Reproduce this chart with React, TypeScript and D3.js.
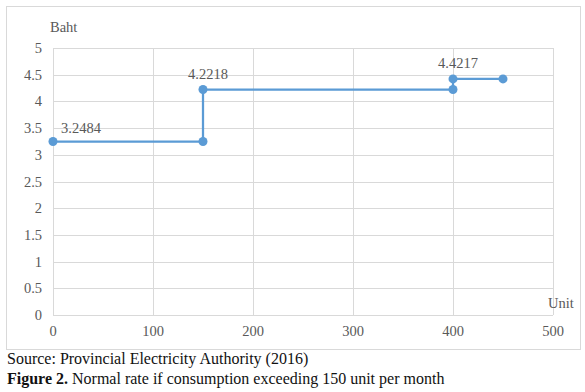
import React, { useRef, useEffect } from 'react';
import * as d3 from 'd3';

interface RatePoint {
    unit: number;
    baht: number;
}

const units: number[] = [0, 150, 150, 400, 400, 450];
const bahtValues: number[] = [3.2484, 3.2484, 4.2218, 4.2218, 4.4217, 4.4217];
const labelledIndexes: number[] = [0, 2, 4];
const xTicks: number[] = [0, 100, 200, 300, 400, 500];
const yTicks: number[] = [0, 0.5, 1, 1.5, 2, 2.5, 3, 3.5, 4, 4.5, 5];

const RateChart: React.FC = () => {
    const d3Container = useRef<SVGSVGElement | null>(null);

    useEffect(() => {
        if (!d3Container.current) return;
        const data: RatePoint[] = units.map((u, i) => ({ unit: u, baht: bahtValues[i] }));
        const font = '"Liberation Serif", "Times New Roman", serif';
        const grey = '#595959';
        const blue = '#5b9bd5';
        const fs = 14.5;

        const svg = d3.select(d3Container.current);
        svg.selectAll('*').remove();

        // chart frame
        svg.append('rect')
            .attr('x', 6.5).attr('y', 6.5)
            .attr('width', 574).attr('height', 343)
            .attr('fill', 'white').attr('stroke', '#d9d9d9');

        const x = d3.scaleLinear().domain([0, 500]).range([53, 553]);
        const y = d3.scaleLinear().domain([0, 5]).range([315, 48]);

        // gridlines
        svg.append('g').selectAll('line.h')
            .data(yTicks)
            .join('line')
            .attr('x1', x(0)).attr('x2', x(500))
            .attr('y1', d => Math.round(y(d)) + 0.5).attr('y2', d => Math.round(y(d)) + 0.5)
            .attr('stroke', '#d9d9d9');
        svg.append('g').selectAll('line.v')
            .data(xTicks)
            .join('line')
            .attr('y1', y(0)).attr('y2', y(5))
            .attr('x1', d => Math.round(x(d)) + 0.5).attr('x2', d => Math.round(x(d)) + 0.5)
            .attr('stroke', '#d9d9d9');

        // tick labels
        svg.append('g').selectAll('text')
            .data(yTicks)
            .join('text')
            .attr('x', 42).attr('y', d => y(d) + 5)
            .attr('text-anchor', 'end')
            .attr('font-family', font).attr('font-size', fs).attr('fill', grey)
            .text(d => String(d));
        svg.append('g').selectAll('text')
            .data(xTicks)
            .join('text')
            .attr('x', d => x(d)).attr('y', 336)
            .attr('text-anchor', 'middle')
            .attr('font-family', font).attr('font-size', fs).attr('fill', grey)
            .text(d => String(d));

        // axis titles
        svg.append('text').attr('x', 50).attr('y', 32)
            .attr('font-family', font).attr('font-size', fs).attr('fill', grey).text('Baht');
        svg.append('text').attr('x', 548).attr('y', 308)
            .attr('font-family', font).attr('font-size', fs).attr('fill', grey).text('Unit');

        // step line
        const line = d3.line<RatePoint>().x(d => x(d.unit)).y(d => y(d.baht));
        svg.append('path')
            .datum(data)
            .attr('d', line)
            .attr('fill', 'none').attr('stroke', blue).attr('stroke-width', 2.25);

        svg.append('g').selectAll('circle')
            .data(data)
            .join('circle')
            .attr('cx', d => x(d.unit)).attr('cy', d => y(d.baht))
            .attr('r', 4.5).attr('fill', blue);

        // data labels
        const labelled = labelledIndexes.map(i => data[i]);
        svg.append('g').selectAll('text')
            .data(labelled)
            .join('text')
            .attr('x', d => d.unit === 0 ? x(d.unit) + 8 : x(d.unit) + 5)
            .attr('y', d => y(d.baht) - (d.unit === 0 ? 9 : 11))
            .attr('text-anchor', d => d.unit === 0 ? 'start' : 'middle')
            .attr('font-family', font).attr('font-size', fs).attr('fill', grey)
            .text(d => d.baht.toFixed(4));

        // caption
        svg.append('text').attr('x', 7).attr('y', 364)
            .attr('font-family', font).attr('font-size', 16).attr('fill', '#111')
            .text('Source: Provincial Electricity Authority (2016)');
        const cap = svg.append('text').attr('x', 7).attr('y', 384)
            .attr('font-family', font).attr('font-size', 16).attr('fill', '#111');
        cap.append('tspan').attr('font-weight', 'bold').text('Figure 2.');
        cap.append('tspan').text(' Normal rate if consumption exceeding 150 unit per month');
    }, []);

    return <svg ref={d3Container} width={585} height={392} style={{ display: 'block' }} />;
};

export default function App() {
    return (
        <div style={{ position: 'absolute', left: 0, top: 0, background: 'white' }}>
            <RateChart />
        </div>
    );
}
